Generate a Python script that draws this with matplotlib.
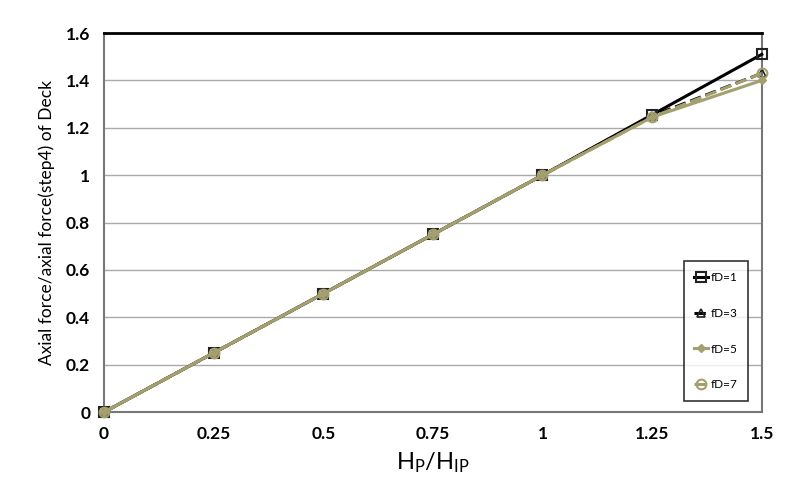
import matplotlib
matplotlib.use('Agg')
import matplotlib.pyplot as plt

plt.rcParams['font.family'] = ['Lato', 'DejaVu Sans']

x = [0, 0.25, 0.5, 0.75, 1, 1.25, 1.5]
fd1 = [0, 0.25, 0.5, 0.75, 1.0, 1.255, 1.51]
fd3 = [0, 0.25, 0.5, 0.75, 1.0, 1.25, 1.43]
fd5 = [0, 0.25, 0.5, 0.75, 1.0, 1.245, 1.40]
fd7 = [0, 0.25, 0.5, 0.75, 1.0, 1.245, 1.43]
labels = ['fD=1', 'fD=3', 'fD=5', 'fD=7']

khaki = '#a39f6e'

fig = plt.figure(figsize=(7.91, 4.93), dpi=100)
ax = fig.add_axes([0.1315, 0.164, 0.8315, 0.769])

ax.plot(x, fd1, '-', color='black', lw=2.2, marker='s', ms=7, mfc='none', mec='#222222', mew=1.5, label=labels[0], clip_on=False, zorder=3)
ax.plot(x, fd3, '--', color='black', lw=2.2, marker='^', ms=6, mfc='none', mec='#222222', mew=1.2, label=labels[1], clip_on=False, zorder=3)
ax.plot(x, fd5, '-', color=khaki, lw=2.2, marker='D', ms=4, mfc=khaki, mec=khaki, label=labels[2], clip_on=False, zorder=3)
ax.plot(x, fd7, '--', color=khaki, lw=2.2, marker='o', ms=7, mfc='none', mec=khaki, mew=1.5, label=labels[3], clip_on=False, zorder=3)

ax.set_xlim(0, 1.5)
ax.set_ylim(0, 1.6)
ax.set_xticks(x)
ax.set_xticklabels(['0', '0.25', '0.5', '0.75', '1', '1.25', '1.5'])
ax.set_yticks([0, 0.2, 0.4, 0.6, 0.8, 1, 1.2, 1.4, 1.6])
ax.set_yticklabels(['0', '0.2', '0.4', '0.6', '0.8', '1', '1.2', '1.4', '1.6'])
ax.tick_params(length=0, labelsize=12.5, pad=10)
for t in ax.get_xticklabels() + ax.get_yticklabels():
    t.set_fontweight('bold')
ax.grid(axis='y', color='#aaaaaa', lw=1)
for s in ['left', 'right', 'bottom']:
    ax.spines[s].set_color('#777777')
    ax.spines[s].set_linewidth(1.5)
ax.spines['top'].set_color('black')
ax.spines['top'].set_linewidth(2)

ax.set_xlabel(r'$\mathregular{H_P/H_{IP}}$', fontsize=17, labelpad=6)
ax.set_ylabel('Axial force/axial force(step4) of Deck', fontsize=12.5, labelpad=8)

leg = ax.legend(loc='lower right', bbox_to_anchor=(0.985, 0.02), fontsize=8.5, frameon=True,
                fancybox=False, edgecolor='black', handlelength=1.2, handletextpad=0.2,
                labelspacing=2.1, borderpad=0.9, borderaxespad=0.3)
leg.get_frame().set_linewidth(1.2)

fig.savefig('out.png', dpi=100)
